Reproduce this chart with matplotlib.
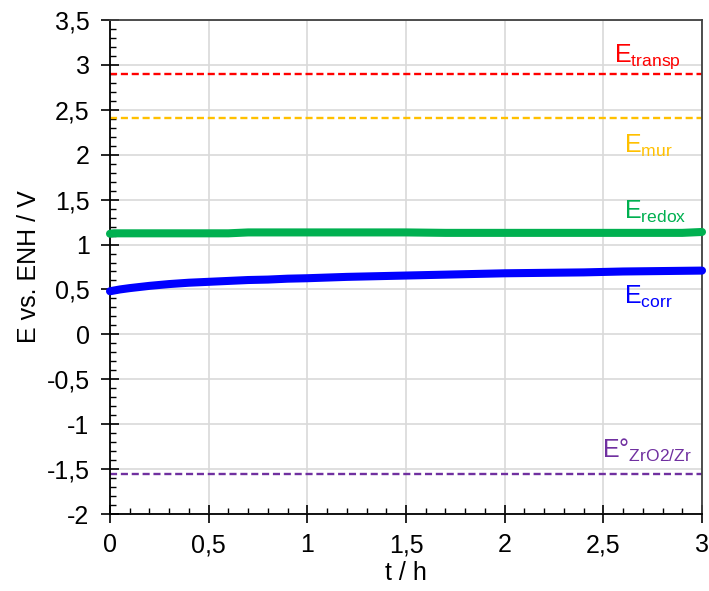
import matplotlib
matplotlib.use("Agg")
import matplotlib.pyplot as plt
from matplotlib.ticker import MultipleLocator, FuncFormatter

plt.rcParams['font.family'] = ['Liberation Sans', 'DejaVu Sans']

# Data
t_corr = [0.0, 0.05, 0.1, 0.2, 0.3, 0.4, 0.5, 0.6, 0.7, 0.8, 0.9, 1.0, 1.2, 1.4, 1.6, 1.8, 2.0, 2.2, 2.4, 2.6, 2.8, 3.0]
E_corr = [0.48, 0.50, 0.515, 0.54, 0.56, 0.575, 0.585, 0.595, 0.605, 0.61, 0.62, 0.625, 0.64, 0.65, 0.66, 0.67, 0.68, 0.685, 0.69, 0.70, 0.705, 0.71]
t_redox = [0.0, 0.02, 0.3, 0.6, 0.7, 1.0, 1.5, 1.7, 2.0, 2.5, 2.9, 3.0]
E_redox = [1.12, 1.125, 1.125, 1.125, 1.135, 1.135, 1.135, 1.13, 1.13, 1.13, 1.13, 1.14]
E_transp = 2.9
E_mur = 2.41
E_zr = -1.55

x_ticks = [0, 0.5, 1, 1.5, 2, 2.5, 3]
y_ticks = [-2, -1.5, -1, -0.5, 0, 0.5, 1, 1.5, 2, 2.5, 3, 3.5]

fig = plt.figure(figsize=(7.09, 5.91), dpi=100)
L, R, T, B = 110, 702, 20, 514
ax = fig.add_axes([L/709, 1-B/591, (R-L)/709, (B-T)/591])

ax.set_xlim(0, 3)
ax.set_ylim(-2, 3.5)

ax.grid(True, which='major', color='#d9d9d9', linewidth=1.2)
ax.set_axisbelow(True)

ax.axhline(E_transp, color='#FF0000', lw=1.7, dashes=(3, 1.6))
ax.axhline(E_mur, color='#FFC000', lw=1.7, dashes=(3, 1.6))
ax.axhline(E_zr, color='#7030A0', lw=1.7, dashes=(3, 1.6))

ax.plot(t_redox, E_redox, color='#00B050', lw=5.8, solid_capstyle='round', clip_on=False, zorder=5)
ax.plot(t_corr, E_corr, color='#0000FF', lw=5.8, solid_capstyle='round', clip_on=False, zorder=5)

fmt = FuncFormatter(lambda v, p: ('%g' % v).replace('.', ','))
ax.xaxis.set_major_formatter(fmt)
ax.yaxis.set_major_formatter(fmt)
ax.set_xticks(x_ticks)
ax.set_yticks(y_ticks)
ax.xaxis.set_minor_locator(MultipleLocator(0.1))
ax.yaxis.set_minor_locator(MultipleLocator(0.1))
ax.tick_params(which='major', direction='inout', length=13.5, width=1.2, labelsize=18, colors='black')
ax.tick_params(which='minor', direction='in', length=4.5, width=1)
ax.tick_params(axis='x', which='major', pad=7)
ax.tick_params(axis='y', which='major', pad=8)

for s in ax.spines.values():
    s.set_linewidth(1.3)
    s.set_color('#000000')
ax.spines['right'].set_color('#404040')
ax.spines['top'].set_color('#404040')

ax.set_xlabel('t / h', fontsize=18, labelpad=3)
ax.set_ylabel('E vs. ENH / V', fontsize=18, labelpad=4)

lab = dict(fontsize=18, ha='left', va='baseline')
ax.text(2.556, 3.04, r'E$_{\mathregular{transp}}$', color='#FF0000', **lab)
ax.text(2.606, 2.02, r'E$_{\mathregular{mur}}$', color='#FFC000', **lab)
ax.text(2.606, 1.29, r'E$_{\mathregular{redox}}$', color='#00B050', **lab)
ax.text(2.606, 0.34, r'E$_{\mathregular{corr}}$', color='#0000FF', **lab)
ax.text(2.495, -1.37, r'E°$_{\mathregular{ZrO2/Zr}}$', color='#7030A0', **lab)

fig.savefig('out.png', dpi=100)
